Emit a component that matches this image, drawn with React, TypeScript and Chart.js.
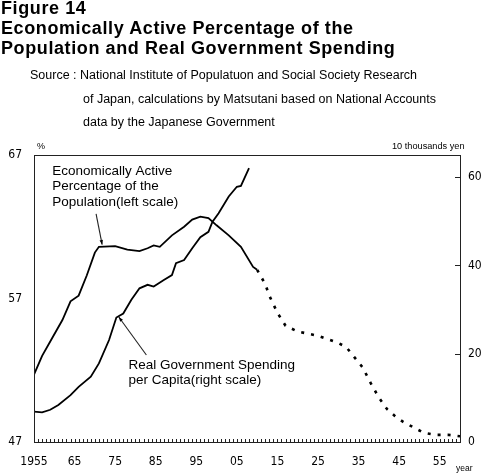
import { useEffect, useRef } from 'react';
import { Chart, registerables } from 'chart.js';

Chart.register(...registerables);

// Economically active percentage of the population (left scale, %)
const activeYears = [1955, 1957, 1959, 1962, 1964, 1966, 1968, 1970, 1971, 1975, 1978, 1981, 1983, 1984.5, 1986, 1989, 1992, 1994, 1996, 1998, 2000, 2003, 2006, 2009, 2010];
const activeValues = [51.7, 53.0, 54.0, 55.5, 56.8, 57.2, 58.6, 60.2, 60.6, 60.65, 60.4, 60.3, 60.5, 60.7, 60.6, 61.4, 62.0, 62.5, 62.7, 62.6, 62.1, 61.4, 60.6, 59.2, 59.0];

// projection (dotted)
const projYears = [2010, 2012, 2013, 2015, 2017, 2020, 2025, 2030, 2032, 2034, 2036, 2038, 2040, 2042, 2044, 2046, 2049, 2051, 2054, 2057, 2060];
const projValues = [59.0, 58.0, 57.2, 56.0, 55.1, 54.7, 54.4, 53.9, 53.6, 52.9, 52.2, 51.1, 50.1, 49.3, 48.8, 48.4, 47.95, 47.65, 47.5, 47.5, 47.4];

// Real government spending per capita (right scale, 10 thousands yen)
const spendYears = [1955, 1957, 1959, 1961, 1964, 1966, 1969, 1971, 1973.5, 1975.3, 1977, 1979, 1981, 1983, 1984.5, 1987, 1989, 1990, 1992, 1994, 1996, 1998, 1999, 2000.5, 2003, 2005, 2006, 2008];
const spendValues = [6.9, 6.7, 7.3, 8.4, 10.6, 12.5, 14.8, 17.8, 23.1, 28.2, 29.1, 32.2, 34.8, 35.6, 35.2, 36.7, 37.8, 40.5, 41.2, 43.9, 46.4, 47.6, 49.9, 51.8, 55.6, 57.8, 58.0, 62.0];

const xTickYears = [1955, 1965, 1975, 1985, 1995, 2005, 2015, 2025, 2035, 2045, 2055];
const xTickLabels = ['1955', '65', '75', '85', '95', '05', '15', '25', '35', '45', '55'];
const leftTicks = [47, 57, 67];
const rightTicks = [0, 20, 40, 60];

const tickFont = { family: "'Liberation Sans Narrow', 'DejaVu Sans Condensed', 'Liberation Sans', sans-serif", size: 12 };
const noteFont = "13.5px 'Liberation Sans', Arial, sans-serif";

const activeNote = ['Economically Active', 'Percentage of the', 'Population(left scale)'];
const spendNote = ['Real Government Spending', 'per Capita(right scale)'];

const decorPlugin = {
  id: 'decor',
  afterDatasetsDraw(chart: any) {
    const { ctx, chartArea: a, scales } = chart;
    const x = scales.x;
    const yl = scales.y;
    const yr = scales.y1;
    ctx.save();
    ctx.strokeStyle = '#222';
    ctx.lineWidth = 1;
    ctx.strokeRect(Math.round(a.left) + 0.5, Math.round(a.top) + 0.5, Math.round(a.right - a.left), Math.round(a.bottom - a.top));

    // minor ticks every year on the bottom axis
    ctx.beginPath();
    for (let yrs = 1955; yrs <= 2060; yrs++) {
      const px = Math.round(x.getPixelForValue(yrs)) + 0.5;
      ctx.moveTo(px, a.bottom);
      ctx.lineTo(px, a.bottom - 3);
    }
    // inner ticks on right axis
    rightTicks.forEach(v => {
      if (v === 0) return;
      const py = Math.round(yr.getPixelForValue(v)) + 0.5;
      ctx.moveTo(a.right - 5, py);
      ctx.lineTo(a.right, py);
    });
    ctx.stroke();

    // notes with pointer lines
    ctx.fillStyle = '#000';
    ctx.font = noteFont;
    ctx.textBaseline = 'middle';
    ctx.textAlign = 'left';
    const t1x = x.getPixelForValue(1959.5);
    const t1y = yl.getPixelForValue(65.9);
    activeNote.forEach((s, i) => ctx.fillText(s, t1x, t1y + i * 15.5));
    const t2x = x.getPixelForValue(1978.3);
    const t2y = yr.getPixelForValue(17.4);
    spendNote.forEach((s, i) => ctx.fillText(s, t2x, t2y + i * 15));

    const arrow = (x1: number, y1: number, x2: number, y2: number) => {
      ctx.beginPath();
      ctx.moveTo(x1, y1);
      ctx.lineTo(x2, y2);
      ctx.stroke();
      const ang = Math.atan2(y2 - y1, x2 - x1);
      ctx.beginPath();
      ctx.moveTo(x2, y2);
      ctx.lineTo(x2 - 5 * Math.cos(ang - 0.35), y2 - 5 * Math.sin(ang - 0.35));
      ctx.lineTo(x2 - 5 * Math.cos(ang + 0.35), y2 - 5 * Math.sin(ang + 0.35));
      ctx.closePath();
      ctx.fill();
    };
    ctx.lineWidth = 1.1;
    arrow(x.getPixelForValue(1970.3), yl.getPixelForValue(62.9), x.getPixelForValue(1971.8), yl.getPixelForValue(60.75));
    arrow(x.getPixelForValue(1982.7), yr.getPixelForValue(19.7), x.getPixelForValue(1975.9), yr.getPixelForValue(28.3));
    ctx.restore();
  },
};

const App = () => {
  const canvasRef = useRef<HTMLCanvasElement>(null);
  const chartRef = useRef<Chart | null>(null);

  useEffect(() => {
    if (!canvasRef.current) return;
    if (chartRef.current) chartRef.current.destroy();

    const line = { borderColor: '#000', borderWidth: 1.8, pointRadius: 0, tension: 0, fill: false };

    chartRef.current = new Chart(canvasRef.current, {
      type: 'line',
      data: {
        datasets: [
          { ...line, label: 'active', yAxisID: 'y', data: activeYears.map((yr, i) => ({ x: yr, y: activeValues[i] })) },
          {
            ...line,
            label: 'projection',
            yAxisID: 'y',
            borderWidth: 2.6,
            borderDash: [3, 7],
            data: projYears.map((yr, i) => ({ x: yr, y: projValues[i] })),
          },
          { ...line, label: 'spending', yAxisID: 'y1', data: spendYears.map((yr, i) => ({ x: yr, y: spendValues[i] })) },
        ],
      },
      options: {
        animation: false,
        responsive: true,
        maintainAspectRatio: false,
        layout: { padding: { top: 155, left: 0, right: 0, bottom: 0 } },
        plugins: { legend: { display: false }, tooltip: { enabled: false }, title: { display: false } },
        scales: {
          x: {
            type: 'linear',
            min: 1955,
            max: 2060,
            afterBuildTicks: (s: any) => { s.ticks = xTickYears.map(v => ({ value: v })); },
            afterFit: (s: any) => { s.height = 32; },
            ticks: {
              padding: 13,
              color: '#000',
              font: tickFont,
              maxRotation: 0,
              autoSkip: false,
              callback: (v: any) => xTickLabels[xTickYears.indexOf(Number(v))] ?? '',
            },
            grid: { display: false, drawTicks: false },
            border: { display: false },
          },
          y: {
            position: 'left',
            min: 47,
            max: 67,
            afterBuildTicks: (s: any) => { s.ticks = leftTicks.map(v => ({ value: v })); },
            afterFit: (s: any) => { s.width = 34; },
            ticks: { padding: 12, color: '#000', font: tickFont },
            grid: { display: false, drawTicks: false },
            border: { display: false },
          },
          y1: {
            position: 'right',
            min: 0,
            max: 65,
            afterBuildTicks: (s: any) => { s.ticks = rightTicks.map(v => ({ value: v })); },
            afterFit: (s: any) => { s.width = 30; },
            ticks: { padding: 8, color: '#000', font: tickFont },
            grid: { display: false, drawTicks: false },
            border: { display: false },
          },
        },
      },
      plugins: [decorPlugin],
    });

    return () => {
      if (chartRef.current) {
        chartRef.current.destroy();
        chartRef.current = null;
      }
    };
  }, []);

  const head = "'Liberation Sans', Arial, sans-serif";
  const abs = (left: number, top: number, size: number, bold = false, spacing = 0): React.CSSProperties => ({
    position: 'absolute',
    left,
    top,
    fontSize: size,
    lineHeight: 1,
    fontWeight: bold ? 'bold' : 'normal',
    fontFamily: head,
    letterSpacing: spacing,
    whiteSpace: 'nowrap',
    color: '#000',
  });

  return (
    <div style={{ position: 'absolute', left: 0, top: 0, width: 490, height: 474, background: '#fff', overflow: 'hidden' }}>
      <div style={{ position: 'absolute', left: 0, top: 0, width: 490, height: 474 }}>
        <canvas ref={canvasRef} />
      </div>
      <div style={abs(1, -1, 18, true, 0.6)}>Figure 14</div>
      <div style={abs(1, 19, 18, true, 0.6)}>Economically Active Percentage of the</div>
      <div style={abs(1, 39, 18, true, 0.6)}>Population and Real Government Spending</div>
      <div style={abs(30, 69, 12.5)}>Source : National Institute of Populatuon and Social Society Research</div>
      <div style={abs(83, 93, 12.5)}>of Japan, calculations by Matsutani based on National Accounts</div>
      <div style={abs(83, 116, 12.5)}>data by the Japanese Government</div>
      <div style={abs(37, 142, 9)}>%</div>
      <div style={abs(392, 142, 9.2)}>10 thousands yen</div>
      <div style={abs(456, 464, 8.5)}>year</div>
    </div>
  );
};

export default App;
